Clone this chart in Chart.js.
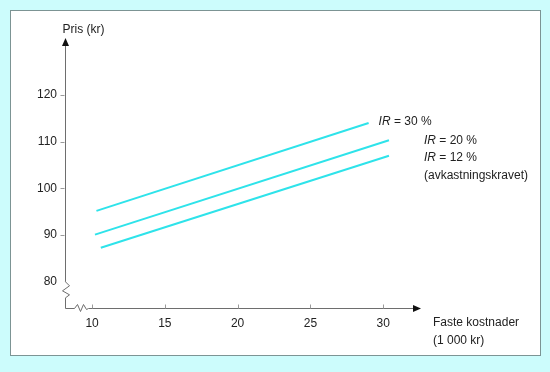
<!DOCTYPE html>
<html lang="no">
<head>
  <meta charset="UTF-8">
  <title>Pris og faste kostnader</title>
  <script src="https://cdn.jsdelivr.net/npm/chart.js"></script>
  <style>
    html, body { margin: 0; padding: 0; background: #ccfcfc; }
    #wrap { width: 550px; height: 372px; }
  </style>
</head>
<body>
  <div id="wrap"><canvas id="priceChart" width="550" height="372"></canvas></div>

  <script>
    // Tick labels
    const xTicks = [10, 15, 20, 25, 30];
    const yTicks = [80, 90, 100, 110, 120];

    // Series (faste kostnader in 1 000 kr, pris in kr)
    const seriesNames = ['IR = 30 %', 'IR = 20 %', 'IR = 12 %'];
    const ir30X = [10.3, 29.0];
    const ir30Y = [95.2, 114.0];
    const ir20X = [10.2, 30.4];
    const ir20Y = [90.1, 110.3];
    const ir12X = [10.6, 30.4];
    const ir12Y = [87.3, 107.0];

    const lineColor = '#2ee3ea';
    const textColor = '#222';
    const axisColor = '#6e6e6e';
    const font = '"Liberation Sans", Arial, sans-serif';

    function toPoints(xs, ys) {
      return xs.map((x, i) => ({ x: x, y: ys[i] }));
    }

    // Panel, axes with breaks and arrows, and the line labels
    const decorPlugin = {
      id: 'decor',
      beforeDraw(chart) {
        const ctx = chart.ctx;
        ctx.save();
        ctx.fillStyle = '#ffffff';
        ctx.fillRect(10, 10, 531, 346);
        ctx.strokeStyle = '#7c9494';
        ctx.lineWidth = 1;
        ctx.strokeRect(10.5, 10.5, 530, 345);
        ctx.restore();
      },
      afterDraw(chart) {
        const ctx = chart.ctx;
        const area = chart.chartArea;
        const xs = chart.scales.x, ys = chart.scales.y;
        const ox = Math.round(area.left) + 0.5;
        const oy = Math.round(area.bottom) + 0.5;
        const y80 = ys.getPixelForValue(80);

        ctx.save();
        ctx.strokeStyle = axisColor;
        ctx.fillStyle = '#111';
        ctx.lineWidth = 1;

        // y axis with zigzag break
        ctx.beginPath();
        ctx.moveTo(ox, area.top + 4);
        ctx.lineTo(ox, y80);
        ctx.lineTo(ox + 4, y80 + 4);
        ctx.lineTo(ox - 3, y80 + 9);
        ctx.lineTo(ox + 4, y80 + 13);
        ctx.lineTo(ox, y80 + 16);
        ctx.lineTo(ox, oy);
        // x axis with zigzag break
        ctx.lineTo(ox + 9, oy);
        ctx.lineTo(ox + 12, oy - 4);
        ctx.lineTo(ox + 15, oy + 3);
        ctx.lineTo(ox + 18, oy - 4);
        ctx.lineTo(ox + 21, oy + 1);
        ctx.lineTo(ox + 23, oy);
        ctx.lineTo(area.right - 4, oy);
        ctx.stroke();

        // arrow heads
        ctx.beginPath();
        ctx.moveTo(ox, area.top);
        ctx.lineTo(ox - 3.5, area.top + 8);
        ctx.lineTo(ox + 3.5, area.top + 8);
        ctx.closePath();
        ctx.fill();
        ctx.beginPath();
        ctx.moveTo(area.right, oy);
        ctx.lineTo(area.right - 8, oy - 3.5);
        ctx.lineTo(area.right - 8, oy + 3.5);
        ctx.closePath();
        ctx.fill();

        // tick marks
        ctx.strokeStyle = '#9a9a9a';
        ctx.beginPath();
        xTicks.forEach(v => {
          const px = Math.round(xs.getPixelForValue(v)) + 0.5;
          ctx.moveTo(px, oy);
          ctx.lineTo(px, oy - 4);
        });
        yTicks.filter(v => v > 80).forEach(v => {
          const py = Math.round(ys.getPixelForValue(v)) + 0.5;
          ctx.moveTo(ox - 5, py);
          ctx.lineTo(ox - 1, py);
        });
        ctx.stroke();

        // axis titles
        ctx.fillStyle = textColor;
        ctx.font = '12px ' + font;
        ctx.textBaseline = 'middle';
        ctx.textAlign = 'left';
        ctx.fillText('Pris (kr)', ox - 3, 30);
        ctx.fillText('Faste kostnader', area.right + 12, oy + 14);
        ctx.fillText('(1 000 kr)', area.right + 12, oy + 32);

        // line labels
        const ends = chart.data.datasets.map((d, i) => {
          const meta = chart.getDatasetMeta(i);
          const el = meta.data[meta.data.length - 1];
          return { x: el.x, y: el.y };
        });
        const drawIR = (rest, x, y) => {
          ctx.font = 'italic 12px ' + font;
          ctx.fillText('IR', x, y);
          const w = ctx.measureText('IR').width;
          ctx.font = '12px ' + font;
          ctx.fillText(rest, x + w, y);
        };
        drawIR(seriesNames[0].slice(2), ends[0].x + 10, ends[0].y - 1);
        drawIR(seriesNames[1].slice(2), ends[1].x + 35, ends[1].y);
        drawIR(seriesNames[2].slice(2), ends[2].x + 35, ends[2].y + 2);
        ctx.fillText('(avkastningskravet)', ends[2].x + 35, ends[2].y + 20);
        ctx.restore();
      }
    };

    const ctx = document.getElementById('priceChart').getContext('2d');
    new Chart(ctx, {
      type: 'scatter',
      data: {
        datasets: [
          { label: seriesNames[0], data: toPoints(ir30X, ir30Y) },
          { label: seriesNames[1], data: toPoints(ir20X, ir20Y) },
          { label: seriesNames[2], data: toPoints(ir12X, ir12Y) }
        ].map(d => Object.assign(d, {
          showLine: true,
          borderColor: lineColor,
          borderWidth: 2,
          pointRadius: 0,
          fill: false
        }))
      },
      options: {
        responsive: false,
        animation: false,
        layout: { padding: { top: 38, right: 129, left: 0, bottom: 0 } },
        plugins: { legend: { display: false }, tooltip: { enabled: false } },
        scales: {
          x: {
            type: 'linear',
            min: 8.14,
            max: 32.6,
            afterBuildTicks: s => { s.ticks = xTicks.map(v => ({ value: v })); },
            afterFit: s => { s.height = 64; },
            grid: { display: false, drawTicks: false },
            border: { display: false },
            ticks: { color: textColor, padding: 8, font: { family: font, size: 12 } }
          },
          y: {
            type: 'linear',
            min: 74.4,
            max: 132.2,
            afterBuildTicks: s => { s.ticks = yTicks.map(v => ({ value: v })); },
            afterFit: s => { s.width = 65; },
            grid: { display: false, drawTicks: false },
            border: { display: false },
            ticks: { color: textColor, padding: 8, font: { family: font, size: 12 } }
          }
        }
      },
      plugins: [decorPlugin]
    });
  </script>
</body>
</html>
